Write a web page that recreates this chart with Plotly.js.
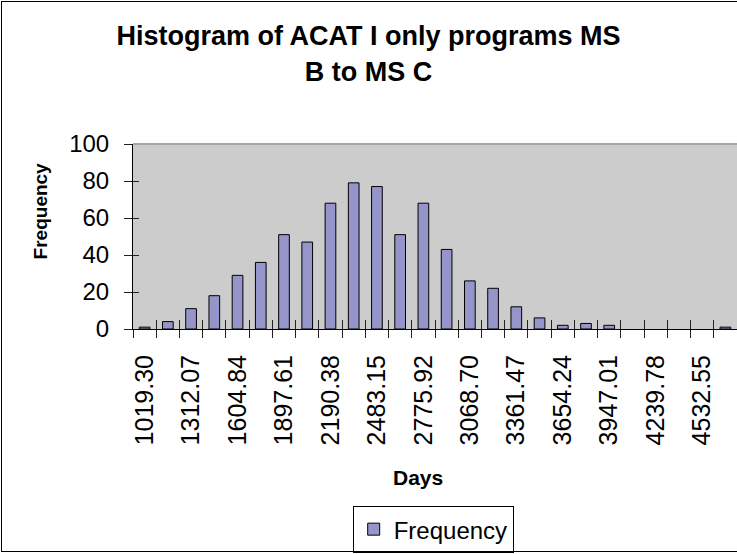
<!DOCTYPE html>
<html>
<head>
<meta charset="utf-8">
<script src="https://cdn.plot.ly/plotly-3.0.1.min.js"></script>
<style>
  html, body { margin: 0; padding: 0; overflow: hidden; background: #fff; }
  #chart { width: 737px; height: 554px; position: absolute; left: 0; top: 0; }
  #frame { position: absolute; left: 1px; top: 1px; width: 800px; height: 549px;
           border: 1px solid #000; pointer-events: none; }
</style>
</head>
<body>
<div id="chart"></div>
<div id="frame"></div>
<script>
// Bin labels (upper bin edges, days) - every other one is shown on the axis
const binLabels = [
  "1019.30", "1165.69", "1312.07", "1458.46", "1604.84", "1751.23",
  "1897.61", "2044.00", "2190.38", "2336.77", "2483.15", "2629.54",
  "2775.92", "2922.31", "3068.70", "3215.08", "3361.47", "3507.85",
  "3654.24", "3800.62", "3947.01", "4093.39", "4239.78", "4386.16",
  "4532.55", "More"
];
// Frequency per bin
const frequency = [
  1, 4, 11, 18, 29, 36, 51, 47, 68, 79, 77, 51, 68,
  43, 26, 22, 12, 6, 2, 3, 2, 0, 0, 0, 0, 1
];
const seriesName = "Frequency";

const idx = binLabels.map((_, i) => i);
const shownIdx = idx.filter(i => i % 2 === 0 && binLabels[i] !== "More");
const shownText = shownIdx.map(i => binLabels[i]);
const boundaries = idx.map(i => i - 0.5).concat([binLabels.length - 0.5]);
const xRange = [-0.5, binLabels.length - 0.5];
const yRange = [0, 100];

const FONT = "Liberation Sans, Arial, sans-serif";

const trace = {
  type: "bar",
  x: idx,
  y: frequency,
  name: seriesName,
  marker: {
    color: "#9595c9",
    line: { color: "#000", width: frequency.map(v => (v > 0 ? 1 : 0)) }
  },
  showlegend: true,
  hoverinfo: "x+y"
};

// invisible helper traces so the overlay tick axes get drawn
const helperX2 = { type: "scatter", mode: "none", x: xRange, y: [null, null],
  xaxis: "x2", yaxis: "y", showlegend: false, hoverinfo: "skip" };
const helperX3 = { type: "scatter", mode: "none", x: xRange, y: [null, null],
  xaxis: "x3", yaxis: "y", showlegend: false, hoverinfo: "skip" };
const helperY2 = { type: "scatter", mode: "none", x: [null, null], y: yRange,
  xaxis: "x", yaxis: "y2", showlegend: false, hoverinfo: "skip" };

const layout = {
  width: 737,
  height: 554,
  margin: { l: 133, r: 0, t: 144, b: 222, pad: 0 },
  paper_bgcolor: "#fff",
  plot_bgcolor: "#cccccc",
  font: { family: FONT, color: "#000", size: 24 },
  bargap: 0.54,
  title: {
    text: "Histogram of ACAT I only programs MS<br>B to MS C",
    font: { family: FONT, size: 27, color: "#000", weight: "bold" },
    x: 0.5, xref: "container", xanchor: "center",
    y: 0.918, yref: "container", yanchor: "top"
  },
  xaxis: {
    type: "linear",
    range: xRange,
    tickmode: "array",
    tickvals: shownIdx,
    ticktext: shownText,
    tickangle: -90,
    ticks: "",
    ticklabelstandoff: 15,
    tickfont: { family: FONT, size: 25, color: "#000" },
    showline: true, linecolor: "#000", linewidth: 1,
    showgrid: false, zeroline: false, fixedrange: true
  },
  xaxis2: {
    overlaying: "x", anchor: "y", side: "bottom",
    type: "linear", range: xRange,
    tickmode: "array", tickvals: boundaries, ticktext: boundaries.map(() => ""),
    ticks: "inside", ticklen: 9, tickcolor: "#222", tickwidth: 1,
    showticklabels: false, showline: false, showgrid: false, zeroline: false
  },
  xaxis3: {
    overlaying: "x", anchor: "y", side: "bottom",
    type: "linear", range: xRange,
    tickmode: "array", tickvals: boundaries, ticktext: boundaries.map(() => ""),
    ticks: "outside", ticklen: 8, tickcolor: "#222", tickwidth: 1,
    showticklabels: false, showline: false, showgrid: false, zeroline: false
  },
  yaxis: {
    range: yRange,
    tickmode: "linear", tick0: 0, dtick: 20,
    ticks: "outside", ticklen: 8, tickcolor: "#222",
    ticklabelstandoff: 10,
    tickfont: { family: FONT, size: 24, color: "#000" },
    showline: true, linecolor: "#000", linewidth: 1,
    showgrid: false, zeroline: false, fixedrange: true
  },
  yaxis2: {
    overlaying: "y", anchor: "x", side: "left",
    range: yRange, tickmode: "linear", tick0: 0, dtick: 20,
    ticks: "inside", ticklen: 6, tickcolor: "#222",
    showticklabels: false, showline: false, showgrid: false, zeroline: false
  },
  legend: {
    orientation: "h",
    x: 0.497, xanchor: "center",
    y: -0.957, yanchor: "top",
    bgcolor: "#fff", bordercolor: "#000", borderwidth: 1,
    font: { family: FONT, size: 24, color: "#000" }
  },
  annotations: [
    {
      text: "<b>Days</b>", xref: "paper", yref: "paper",
      x: 0.472, y: -0.8, xanchor: "center", yanchor: "middle",
      showarrow: false, font: { family: FONT, size: 21, color: "#000" }
    },
    {
      text: "<b>Frequency</b>", xref: "paper", yref: "paper",
      x: -0.154, y: 0.641, xanchor: "center", yanchor: "middle",
      textangle: -90,
      showarrow: false, font: { family: FONT, size: 19, color: "#000" }
    }
  ],
  shapes: [
    { type: "line", xref: "paper", yref: "paper", x0: 0, x1: 1, y0: 1, y1: 1,
      line: { color: "#a6a6a6", width: 2 } }
  ]
};

Plotly.newPlot("chart", [trace, helperX2, helperX3, helperY2], layout,
  { staticPlot: true, displayModeBar: false });
</script>
</body>
</html>
